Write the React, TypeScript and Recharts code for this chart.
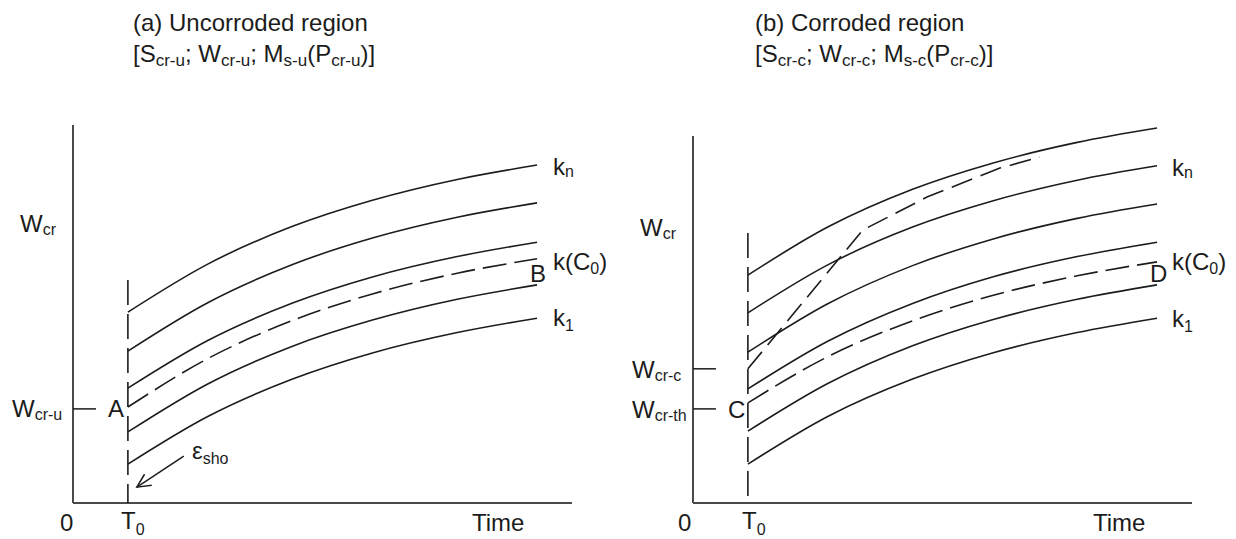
import React from 'react';
import { LineChart, Line, XAxis, YAxis, ReferenceLine } from 'recharts';

// ---- data (arbitrary schematic units) ----
const time = [11, 27, 44, 60, 77, 93];

// (a) Uncorroded region
const aKn = [50.5, 63.2, 73.2, 80.1, 85.6, 89.4];
const a2 = [40.2, 53.0, 63.1, 70.1, 75.6, 79.4];
const a3 = [30.4, 43.0, 52.9, 59.8, 65.2, 69.0];
const aC0 = [25.4, 38.2, 48.3, 55.3, 60.8, 64.6];
const a5 = [18.8, 31.5, 41.5, 48.4, 53.9, 57.7];
const aK1 = [10.3, 22.9, 32.8, 39.7, 45.1, 48.9];

// (b) Corroded region
const bTop = [60.3, 73.0, 83.0, 89.9, 95.4, 99.2];
const bKn = [50.3, 63.0, 73.0, 79.9, 85.4, 89.2];
const b3 = [39.9, 52.7, 62.8, 69.8, 75.3, 79.1];
const b4 = [30.2, 42.8, 52.8, 59.8, 65.2, 69.0];
const bC0 = [26.5, 38.7, 48.2, 54.9, 60.1, 63.8];
const b6 = [19.0, 31.6, 41.6, 48.5, 53.9, 57.7];
const bK1 = [10.3, 22.9, 32.8, 39.7, 45.1, 48.9];

const corrTime = [11, 34, 47, 61.5, 69.5];
const corrW = [35.5, 72.2, 81.0, 88.6, 91.5];

const T0 = 11;
const WcrU = 24.9;
const WcrC = 35.5;
const WcrTh = 24.9;
const aAxisTop = 100;
const bAxisTop = 97.1;
const timeEnd = 100;
const aT0Top = 59.0;
const bT0Top = 71.4;
const arrowFrom = { x: 22.2, y: 12.4 };
const arrowTo = { x: 12.8, y: 4.2 };

const INK = '#1c1c1c';
const AXIS = '#4a4a4a';
const FONT = '"Liberation Sans", Arial, Helvetica, sans-serif';

type S = { key: string; values: number[]; dashed?: boolean };

const Arrow = (p: any) => {
  const { x1, y1, x2, y2 } = p;
  const ang = Math.atan2(y2 - y1, x2 - x1);
  const L = 15;
  const a1 = ang + Math.PI - 0.45;
  const a2_ = ang + Math.PI + 0.45;
  return (
    <g>
      <line x1={x1} y1={y1} x2={x2} y2={y2} stroke={INK} strokeWidth={1.5} />
      <polyline
        points={`${x2 + L * Math.cos(a1)},${y2 + L * Math.sin(a1)} ${x2},${y2} ${x2 + L * Math.cos(a2_)},${y2 + L * Math.sin(a2_)}`}
        fill="none"
        stroke={INK}
        strokeWidth={1.5}
      />
    </g>
  );
};

function Panel(props: {
  left: number;
  xDom: [number, number];
  series: S[];
  axisTop: number;
  t0Top: number;
  ticks: number[];
  corr?: boolean;
  arrow?: boolean;
}) {
  const { left, xDom, series, axisTop, t0Top, ticks, corr, arrow } = props;
  const data = time.map((t, i) => {
    const row: any = { t };
    series.forEach((s) => (row[s.key] = s.values[i]));
    return row;
  });
  const corrData = corrTime.map((t, i) => ({ t, w: corrW[i] }));
  return (
    <div style={{ position: 'absolute', left, top: 0 }}>
      <LineChart width={618} height={539} data={data} margin={{ top: 0, right: 0, bottom: 0, left: 0 }}>
        <XAxis type="number" dataKey="t" domain={xDom} allowDataOverflow hide />
        <YAxis type="number" domain={[-9.52, 133.07]} allowDataOverflow hide />
        <ReferenceLine segment={[{ x: 0, y: 0 }, { x: 0, y: axisTop }]} stroke={AXIS} strokeWidth={2} />
        <ReferenceLine segment={[{ x: 0, y: 0 }, { x: timeEnd, y: 0 }]} stroke={AXIS} strokeWidth={2} />
        <ReferenceLine
          segment={[{ x: T0, y: t0Top }, { x: T0, y: 0 }]}
          stroke={INK}
          strokeWidth={1.6}
          strokeDasharray="25 9"
        />
        {ticks.map((v, i) => (
          <ReferenceLine key={i} segment={[{ x: 0, y: v }, { x: 4.6, y: v }]} stroke={INK} strokeWidth={1.5} />
        ))}
        {series.map((s) => (
          <Line
            key={s.key}
            dataKey={s.key}
            type="monotone"
            stroke={INK}
            strokeWidth={1.6}
            strokeDasharray={s.dashed ? '24 8' : undefined}
            dot={false}
            activeDot={false}
            isAnimationActive={false}
          />
        ))}
        {corr && (
          <Line
            data={corrData}
            dataKey="w"
            type="linear"
            stroke={INK}
            strokeWidth={1.6}
            strokeDasharray="22 9"
            dot={false}
            activeDot={false}
            isAnimationActive={false}
          />
        )}
        {arrow && <ReferenceLine segment={[arrowFrom, arrowTo]} shape={Arrow} />}
      </LineChart>
    </div>
  );
}

// parts: plain strings are normal text; [text, dy] tuples are subscripts
type Part = string | [string, number];

function T({ x, y, parts, sub = 16 }: { x: number; y: number; parts: Part[]; sub?: number }) {
  let prevDy = 0;
  return (
    <text x={x} y={y} fontSize={24} fontFamily={FONT} fill={INK}>
      {parts.map((p, i) => {
        if (typeof p === 'string') {
          const dy = -prevDy;
          prevDy = 0;
          return (
            <tspan key={i} dy={dy}>
              {p}
            </tspan>
          );
        }
        const dy = p[1] - prevDy;
        prevDy = p[1];
        return (
          <tspan key={i} fontSize={sub} dy={dy}>
            {p[0]}
          </tspan>
        );
      })}
    </text>
  );
}

export default function App() {
  const aSeries: S[] = [
    { key: 'kn', values: aKn },
    { key: 's2', values: a2 },
    { key: 's3', values: a3 },
    { key: 'kc0', values: aC0, dashed: true },
    { key: 's5', values: a5 },
    { key: 'k1', values: aK1 },
  ];
  const bSeries: S[] = [
    { key: 'top', values: bTop },
    { key: 'kn', values: bKn },
    { key: 's3', values: b3 },
    { key: 's4', values: b4 },
    { key: 'kc0', values: bC0, dashed: true },
    { key: 's6', values: b6 },
    { key: 'k1', values: bK1 },
  ];
  return (
    <div style={{ position: 'absolute', left: 0, top: 0, width: 1236, height: 539, background: '#fff', overflow: 'hidden' }}>
      <Panel left={0} xDom={[-14.63, 109.22]} series={aSeries} axisTop={aAxisTop} t0Top={aT0Top} ticks={[WcrU]} arrow />
      <Panel left={618} xDom={[-15.03, 108.82]} series={bSeries} axisTop={bAxisTop} t0Top={bT0Top} ticks={[WcrC, WcrTh]} corr />
      <svg width={1236} height={539} style={{ position: 'absolute', left: 0, top: 0, pointerEvents: 'none' }}>
        {/* Panel (a) */}
        <T x={133} y={31} parts={['(a) Uncorroded region']} />
        <T x={133} y={62} sub={17} parts={['[S', ['cr-u', 4], '; W', ['cr-u', 4], '; M', ['s-u', 4], '(P', ['cr-u', 4], ')]']} />
        <T x={20} y={232} parts={['W', ['cr', 3]]} />
        <T x={12} y={417} parts={['W', ['cr-u', 3]]} />
        <T x={108} y={417} parts={['A']} />
        <T x={192} y={459} parts={['ε', ['sho', 5]]} />
        <T x={553} y={175} parts={['k', ['n', 2]]} />
        <T x={553} y={270} parts={['k(C', ['0', 4], ')']} />
        <T x={530} y={282} parts={['B']} />
        <T x={553} y={326} parts={['k', ['1', 5]]} />
        <T x={60} y={531} parts={['0']} />
        <T x={121} y={529} parts={['T', ['0', 6]]} />
        <T x={472} y={531} parts={['Time']} />
        {/* Panel (b) */}
        <T x={755} y={31} parts={['(b) Corroded region']} />
        <T x={755} y={62} sub={17} parts={['[S', ['cr-c', 4], '; W', ['cr-c', 4], '; M', ['s-c', 4], '(P', ['cr-c', 4], ')]']} />
        <T x={640} y={236} parts={['W', ['cr', 3]]} />
        <T x={632} y={378} parts={['W', ['cr-c', 3]]} />
        <T x={632} y={418} parts={['W', ['cr-th', 3]]} />
        <T x={728} y={418} parts={['C']} />
        <T x={1150} y={282} parts={['D']} />
        <T x={1172} y={176} parts={['k', ['n', 2]]} />
        <T x={1172} y={270} parts={['k(C', ['0', 4], ')']} />
        <T x={1172} y={327} parts={['k', ['1', 5]]} />
        <T x={678} y={531} parts={['0']} />
        <T x={742} y={529} parts={['T', ['0', 6]]} />
        <T x={1093} y={531} parts={['Time']} />
      </svg>
    </div>
  );
}
